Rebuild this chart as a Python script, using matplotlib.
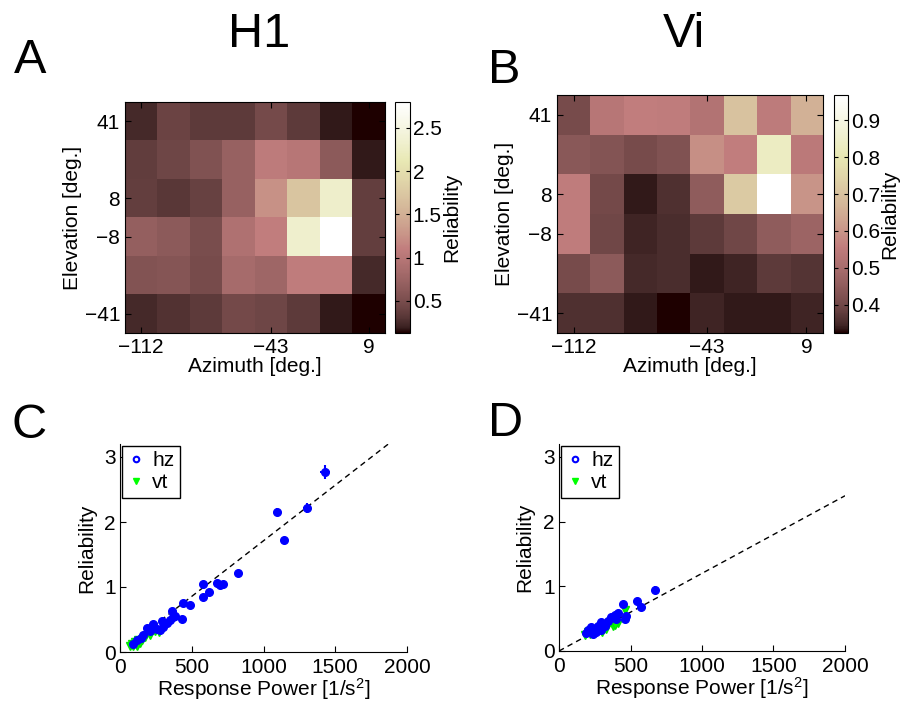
import numpy as np
import matplotlib.pyplot as plt
from matplotlib.lines import Line2D
from matplotlib.ticker import FormatStrFormatter

plt.rcParams['font.family'] = ['Liberation Sans', 'DejaVu Sans']
plt.rcParams['mathtext.default'] = 'regular'
plt.rcParams['xtick.direction'] = 'in'
plt.rcParams['ytick.direction'] = 'in'

# receptive field grid: 6 elevation rows x 8 azimuth columns
az_ticks = [0, 4, 7]
az_labels = ['\u2212112', '\u221243', '9']
el_ticks = [0, 2, 3, 5]
el_labels = ['41', '8', '\u22128', '\u221241']

rel_h1 = [
    [0.24, 0.42, 0.34, 0.34, 0.48, 0.34, 0.18, 0.13],
    [0.36, 0.44, 0.55, 0.72, 1.06, 1.00, 0.64, 0.18],
    [0.37, 0.32, 0.40, 0.72, 1.25, 1.72, 2.30, 0.38],
    [0.70, 0.64, 0.50, 0.93, 1.10, 2.33, 2.80, 0.38],
    [0.56, 0.58, 0.49, 0.84, 0.78, 1.08, 1.08, 0.24],
    [0.24, 0.29, 0.34, 0.47, 0.44, 0.34, 0.18, 0.13],
]
rel_vi = [
    [0.410, 0.535, 0.560, 0.555, 0.525, 0.700, 0.550, 0.660],
    [0.440, 0.430, 0.410, 0.425, 0.590, 0.560, 0.830, 0.545],
    [0.555, 0.405, 0.335, 0.360, 0.450, 0.720, 0.968, 0.600],
    [0.555, 0.400, 0.345, 0.355, 0.375, 0.400, 0.450, 0.475],
    [0.410, 0.445, 0.350, 0.355, 0.335, 0.345, 0.375, 0.365],
    [0.360, 0.360, 0.335, 0.324, 0.345, 0.335, 0.335, 0.345],
]
cb_ticks_h1 = [0.5, 1, 1.5, 2, 2.5]
cb_ticks_vi = [0.4, 0.5, 0.6, 0.7, 0.8, 0.9]

# reliability vs response power, H1
h1_hz_x = [1430, 1302, 1093, 1144, 825, 581, 674, 721, 698, 621, 577, 442, 488,
           365, 372, 380, 430, 349, 291, 233, 186, 256, 326, 302, 209, 279,
           144, 116, 93, 163]
h1_hz_y = [2.77, 2.22, 2.15, 1.73, 1.22, 1.04, 1.06, 1.05, 1.03, 0.92, 0.84, 0.75, 0.73,
           0.63, 0.54, 0.56, 0.51, 0.49, 0.47, 0.43, 0.37, 0.36, 0.44, 0.39, 0.33, 0.34,
           0.21, 0.18, 0.13, 0.26]
h1_hz_xerr = [34, 30, 22, 18, 14, 10, 10, 10, 10, 9, 8, 7, 7,
              6, 6, 6, 6, 6, 5, 4, 4, 4, 4, 4, 4, 4,
              3, 3, 3, 3]
h1_hz_yerr = [0.11, 0.08, 0.06, 0.03, 0.03, 0.03, 0.02, 0.02, 0.02, 0.02, 0.02, 0.02, 0.02,
              0.02, 0.02, 0.02, 0.02, 0.02, 0.01, 0.01, 0.01, 0.01, 0.01, 0.01, 0.01, 0.01,
              0.01, 0.01, 0.01, 0.01]
h1_vt_x = [70, 81, 93, 105, 116, 128, 140, 151, 174, 209, 244, 274]
h1_vt_y = [0.09, 0.13, 0.10, 0.15, 0.10, 0.18, 0.14, 0.18, 0.23, 0.26, 0.33, 0.31]
h1_fit_x = [70, 1870]
h1_fit_y = [0.12, 3.20]

# reliability vs response power, Vi
vi_hz_x = [670, 542, 576, 448, 460, 472, 413, 390, 367, 343, 296, 273, 250,
           203, 191, 238, 320, 402, 226, 261, 296]
vi_hz_y = [0.95, 0.77, 0.68, 0.72, 0.50, 0.54, 0.58, 0.55, 0.52, 0.47, 0.45, 0.39, 0.34,
           0.32, 0.28, 0.27, 0.39, 0.50, 0.37, 0.29, 0.32]
vi_hz_xerr = [12, 10, 10, 9, 8, 8, 7, 7, 7, 6, 6, 6, 5,
              5, 5, 5, 6, 7, 5, 5, 6]
vi_hz_yerr = [0.06, 0.05, 0.04, 0.05, 0.03, 0.03, 0.03, 0.03, 0.03, 0.03, 0.03, 0.02, 0.02,
              0.02, 0.02, 0.02, 0.02, 0.03, 0.02, 0.02, 0.02]
vi_vt_x = [460, 378, 331, 285, 203, 180, 250, 355, 410, 300, 220, 395]
vi_vt_y = [0.63, 0.39, 0.34, 0.37, 0.29, 0.25, 0.32, 0.45, 0.43, 0.30, 0.27, 0.40]
vi_fit_x = [0, 2000]
vi_fit_y = [0.0, 2.40]

W, H = 904, 703
fig = plt.figure(figsize=(W / 100, H / 100), dpi=100)


def box(l, t, r, b):
    return [l / W, 1 - b / H, (r - l) / W, (b - t) / H]


def heatmap(rect, cbrect, data, cticks):
    ax = fig.add_axes(box(*rect))
    im = ax.imshow(np.array(data), cmap='pink', aspect='auto', interpolation='nearest')
    ax.set_xticks(az_ticks)
    ax.set_xticklabels(az_labels)
    ax.set_yticks(el_ticks)
    ax.set_yticklabels(el_labels)
    ax.tick_params(top=True, right=True, length=4, labelsize=15, width=0.8)
    ax.set_xlabel('Azimuth [deg.]', fontsize=15, labelpad=0)
    ax.set_ylabel('Elevation [deg.]', fontsize=15, labelpad=2)
    cax = fig.add_axes(box(*cbrect))
    cb = fig.colorbar(im, cax=cax, ticks=cticks, format=FormatStrFormatter('%g'))
    cb.ax.tick_params(direction='in', left=True, right=True, length=3, labelsize=15, pad=2)
    cb.set_label('Reliability', fontsize=15, labelpad=0)
    cb.outline.set_linewidth(0.8)
    return ax


def scatter(rect, hx, hy, hxe, hye, vx, vy, fx, fy):
    ax = fig.add_axes(box(*rect))
    ax.plot(fx, fy, 'k--', lw=1, dashes=(4, 3))
    ax.plot(vx, vy, 'v', color=(0, 1, 0), ms=5.5, mec=(0, 0.9, 0))
    ax.errorbar(hx, hy, xerr=hxe, yerr=hye, fmt='o', color='blue', ms=5.5,
                elinewidth=1.5, capsize=0)
    ax.set_xlim(0, 2000)
    ax.set_ylim(0, 3.2)
    ax.set_xticks([0, 500, 1000, 1500, 2000])
    ax.set_yticks([0, 1, 2, 3])
    ax.spines['top'].set_visible(False)
    ax.spines['right'].set_visible(False)
    ax.tick_params(length=4, labelsize=15, width=0.8)
    ax.tick_params(axis='x', pad=4)
    ax.tick_params(axis='y', pad=3)
    ax.set_xlabel('Response Power [1/s$^2$]', fontsize=15, labelpad=0)
    ax.set_ylabel('Reliability', fontsize=15, labelpad=6)
    handles = [Line2D([], [], marker='o', ls='none', color='blue', mfc='white', ms=4, mew=1.5),
               Line2D([], [], marker='v', ls='none', color=(0, 1, 0), ms=5)]
    leg = ax.legend(handles, ['hz', 'vt'], loc='upper left', fontsize=15,
                    fancybox=False, edgecolor='black', framealpha=1,
                    handlelength=0.8, handletextpad=0.4, borderpad=0.25,
                    labelspacing=0.15, borderaxespad=0.1)
    leg.get_frame().set_linewidth(1)
    return ax


heatmap((125, 102, 385, 333), (395, 102, 410, 333), rel_h1, cb_ticks_h1)
heatmap((557, 95, 823, 333), (834, 95, 848, 333), rel_vi, cb_ticks_vi)
scatter((120, 444, 407, 652), h1_hz_x, h1_hz_y, h1_hz_xerr, h1_hz_yerr,
        h1_vt_x, h1_vt_y, h1_fit_x, h1_fit_y)
scatter((559, 444, 845, 651), vi_hz_x, vi_hz_y, vi_hz_xerr, vi_hz_yerr,
        vi_vt_x, vi_vt_y, vi_fit_x, vi_fit_y)

fig.text(259 / W, 1 - 47 / H, 'H1', fontsize=35, ha='center', va='baseline')
fig.text(684 / W, 1 - 47 / H, 'Vi', fontsize=35, ha='center', va='baseline')
fig.text(14 / W, 1 - 73 / H, 'A', fontsize=35, va='baseline')
fig.text(488 / W, 1 - 83 / H, 'B', fontsize=35, va='baseline')
fig.text(12 / W, 1 - 438 / H, 'C', fontsize=35, va='baseline')
fig.text(488 / W, 1 - 436 / H, 'D', fontsize=35, va='baseline')

fig.savefig('out.png')
